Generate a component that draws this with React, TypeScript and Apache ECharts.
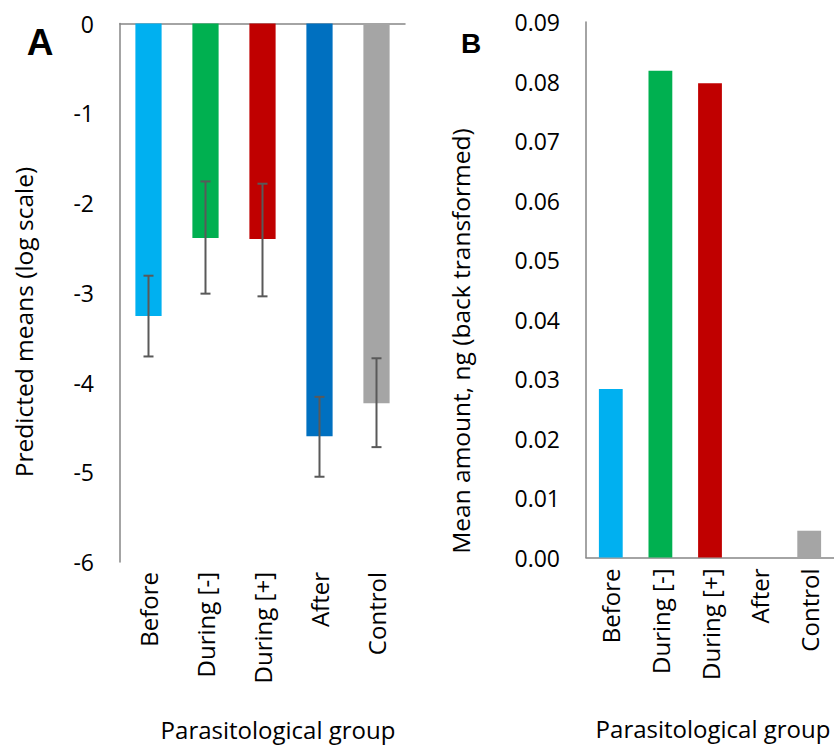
import React, { useEffect, useRef } from "react";
import * as echarts from "echarts";

const categories = ["Before", "During [-]", "During [+]", "After", "Control"];
const barColors = ["#00B0F0", "#00B050", "#C00000", "#0070C0", "#A5A5A5"];
const predictedMeans = [-3.26, -2.39, -2.4, -4.6, -4.23];
const errorLow = [-3.71, -3.01, -3.04, -5.05, -4.72];
const errorHigh = [-2.81, -1.76, -1.785, -4.16, -3.73];
const meanAmount = [0.0283, 0.0818, 0.0797, 0, 0.0045];

const FONT = "Open Sans";
const AXIS_COLOR = "#868686";

export default function App() {
  const ref = useRef<HTMLDivElement>(null);
  useEffect(() => {
    if (!ref.current) return;
    const chart = echarts.init(ref.current, undefined, { renderer: "svg" });
    const labelStyle = { color: "#000", fontFamily: FONT, fontSize: 23 };
    const option: any = {
      animation: false,
      backgroundColor: "#fff",
      grid: [
        { left: 120, top: 23.5, width: 285, height: 538.5 },
        { left: 586, top: 22, width: 250, height: 535.5 },
      ],
      xAxis: [
        {
          gridIndex: 0,
          type: "category",
          data: categories,
          position: "top",
          axisLine: { show: true, lineStyle: { color: AXIS_COLOR, width: 1.5 } },
          axisTick: { show: false },
          axisLabel: { show: false },
        },
        {
          gridIndex: 0,
          type: "category",
          data: categories,
          position: "bottom",
          axisLine: { show: false },
          axisTick: { show: false },
          axisLabel: { ...labelStyle, fontSize: 24, rotate: 90, margin: 10, interval: 0 },
        },
        {
          gridIndex: 1,
          type: "category",
          data: categories,
          position: "bottom",
          axisLine: { show: true, lineStyle: { color: AXIS_COLOR, width: 1.5 } },
          axisTick: { show: false },
          axisLabel: { ...labelStyle, fontSize: 24, rotate: 90, margin: 11, interval: 0 },
        },
      ],
      yAxis: [
        {
          gridIndex: 0,
          type: "value",
          min: -6,
          max: 0,
          interval: 1,
          axisLine: { show: true, lineStyle: { color: AXIS_COLOR, width: 1.5 } },
          axisTick: { show: false },
          splitLine: { show: false },
          axisLabel: { ...labelStyle, margin: 26 },
        },
        {
          gridIndex: 1,
          type: "value",
          min: 0,
          max: 0.09,
          interval: 0.01,
          axisLine: { show: true, lineStyle: { color: AXIS_COLOR, width: 1.5 } },
          axisTick: { show: false },
          splitLine: { show: false },
          axisLabel: {
            ...labelStyle,
            margin: 26,
            formatter: (v: number) => v.toFixed(2),
          },
        },
      ],
      series: [
        {
          type: "bar",
          xAxisIndex: 0,
          yAxisIndex: 0,
          barWidth: "46%",
          data: predictedMeans.map((v, i) => ({ value: v, itemStyle: { color: barColors[i] } })),
        },
        {
          type: "custom",
          xAxisIndex: 0,
          yAxisIndex: 0,
          data: categories.map((_, i) => [i, errorLow[i], errorHigh[i]]),
          renderItem: (params: any, api: any) => {
            const lo = api.coord([api.value(0), api.value(1)]);
            const hi = api.coord([api.value(0), api.value(2)]);
            const hw = 5;
            const style = { stroke: "#595959", lineWidth: 2 };
            return {
              type: "group",
              children: [
                { type: "line", shape: { x1: lo[0], y1: lo[1], x2: hi[0], y2: hi[1] }, style },
                { type: "line", shape: { x1: lo[0] - hw, y1: lo[1], x2: lo[0] + hw, y2: lo[1] }, style },
                { type: "line", shape: { x1: hi[0] - hw, y1: hi[1], x2: hi[0] + hw, y2: hi[1] }, style },
              ],
            };
          },
          z: 5,
        },
        {
          type: "bar",
          xAxisIndex: 2,
          yAxisIndex: 1,
          barWidth: "48%",
          data: meanAmount.map((v, i) => ({ value: v, itemStyle: { color: barColors[i] } })),
        },
      ],
      graphic: [
        {
          type: "text",
          x: 40,
          y: 42,
          style: {
            text: "A",
            font: "bold 37px 'Liberation Sans'",
            fill: "#000",
            align: "center",
            verticalAlign: "middle",
          },
        },
        {
          type: "text",
          x: 471,
          y: 43.5,
          style: {
            text: "B",
            font: "bold 28px 'Liberation Sans'",
            fill: "#000",
            align: "center",
            verticalAlign: "middle",
          },
        },
        {
          type: "text",
          x: 23,
          y: 322,
          rotation: Math.PI / 2,
          style: {
            text: "Predicted means (log scale)",
            font: `24.5px '${FONT}'`,
            fill: "#000",
            align: "center",
            verticalAlign: "middle",
          },
        },
        {
          type: "text",
          x: 460,
          y: 341,
          rotation: Math.PI / 2,
          style: {
            text: "Mean amount, ng (back transformed)",
            font: `24.5px '${FONT}'`,
            fill: "#000",
            align: "center",
            verticalAlign: "middle",
          },
        },
        {
          type: "text",
          x: 278,
          y: 729,
          style: {
            text: "Parasitological group",
            font: `24px '${FONT}'`,
            fill: "#000",
            align: "center",
            verticalAlign: "middle",
          },
        },
        {
          type: "text",
          x: 713,
          y: 728,
          style: {
            text: "Parasitological group",
            font: `24px '${FONT}'`,
            fill: "#000",
            align: "center",
            verticalAlign: "middle",
          },
        },
      ],
    };
    chart.setOption(option);
    return () => chart.dispose();
  }, []);
  return (
    <div
      ref={ref}
      style={{ position: "fixed", left: 0, top: 0, width: 834, height: 747 }}
    />
  );
}
